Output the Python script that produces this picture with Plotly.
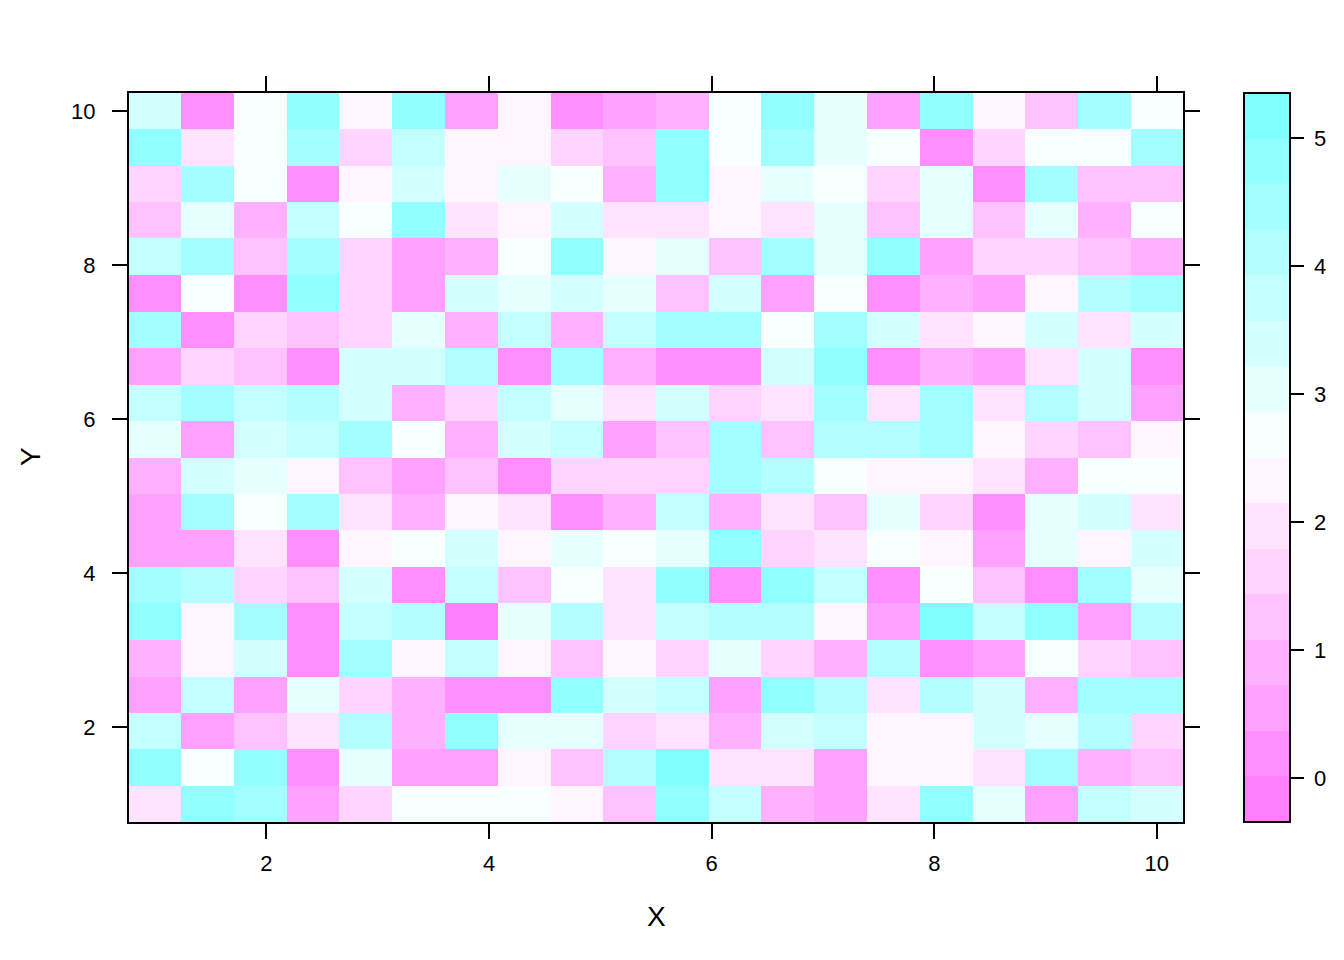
import plotly.graph_objects as go

# grid coordinates (20 x 20 cells, 1..10)
x_vals = [1.0, 1.47, 1.95, 2.42, 2.89, 3.37, 3.84, 4.32, 4.79, 5.26,
          5.74, 6.21, 6.68, 7.16, 7.63, 8.11, 8.58, 9.05, 9.53, 10.0]
y_vals = [1.0, 1.47, 1.95, 2.42, 2.89, 3.37, 3.84, 4.32, 4.79, 5.26,
          5.74, 6.21, 6.68, 7.16, 7.63, 8.11, 8.58, 9.05, 9.53, 10.0]

# z values, rows listed from top (y = 10) to bottom (y = 1)
z_top_to_bottom = [
    [3.40, 0.19, 2.68, 4.82, 2.33, 4.82, 0.55, 2.33, 0.19, 0.55, 0.90, 2.68, 4.82, 3.04, 0.55, 4.82, 2.33, 1.26, 4.46, 2.68],
    [4.82, 1.97, 2.68, 4.46, 1.62, 3.75, 2.33, 2.33, 1.62, 1.26, 4.82, 2.68, 4.46, 3.04, 2.68, 0.19, 1.62, 2.68, 2.68, 4.46],
    [1.62, 4.46, 2.68, 0.19, 2.33, 3.40, 2.33, 3.04, 2.68, 0.90, 4.82, 2.33, 3.04, 2.68, 1.62, 3.04, 0.19, 4.46, 1.26, 1.26],
    [1.26, 3.04, 0.90, 3.75, 2.68, 4.82, 1.97, 2.33, 3.40, 1.97, 1.97, 2.33, 1.97, 3.04, 1.26, 3.04, 1.26, 3.04, 0.90, 2.68],
    [3.75, 4.46, 1.26, 4.46, 1.62, 0.55, 0.90, 2.68, 4.82, 2.33, 3.04, 1.26, 4.46, 3.04, 4.82, 0.55, 1.62, 1.62, 1.26, 0.90],
    [0.19, 2.68, 0.19, 4.82, 1.62, 0.55, 3.40, 3.04, 3.40, 3.04, 1.26, 3.40, 0.55, 2.68, 0.19, 0.90, 0.55, 2.33, 4.11, 4.46],
    [4.46, 0.19, 1.62, 1.26, 1.62, 3.04, 0.90, 3.75, 0.90, 3.75, 4.46, 4.46, 2.68, 4.46, 3.40, 1.97, 2.33, 3.40, 1.97, 3.40],
    [0.55, 1.62, 1.26, 0.19, 3.40, 3.40, 4.11, 0.19, 4.46, 0.90, 0.19, 0.19, 3.40, 4.82, 0.19, 0.90, 0.55, 1.97, 3.40, 0.19],
    [3.75, 4.46, 3.75, 4.11, 3.40, 0.90, 1.62, 3.75, 3.04, 1.97, 3.40, 1.62, 1.97, 4.46, 1.97, 4.46, 1.97, 4.11, 3.40, 0.55],
    [3.04, 0.55, 3.40, 3.75, 4.46, 2.68, 0.90, 3.40, 3.75, 0.55, 1.26, 4.46, 1.26, 4.11, 4.11, 4.46, 2.33, 1.62, 1.26, 2.33],
    [0.90, 3.40, 3.04, 2.33, 1.26, 0.55, 1.26, 0.19, 1.62, 1.62, 1.62, 4.46, 4.11, 2.68, 2.33, 2.33, 1.97, 0.90, 2.68, 2.68],
    [0.55, 4.46, 2.68, 4.46, 1.97, 0.90, 2.33, 1.97, 0.19, 0.90, 3.75, 0.90, 1.97, 1.26, 3.04, 1.62, 0.19, 3.04, 3.40, 1.97],
    [0.55, 0.55, 1.97, 0.19, 2.33, 2.68, 3.40, 2.33, 3.04, 2.68, 3.04, 4.82, 1.62, 1.97, 2.68, 2.33, 0.55, 3.04, 2.33, 3.40],
    [4.46, 4.11, 1.62, 1.26, 3.40, 0.19, 3.75, 1.26, 2.68, 1.97, 4.82, 0.19, 4.82, 3.75, 0.19, 2.68, 1.26, 0.19, 4.46, 3.04],
    [4.82, 2.33, 4.46, 0.19, 3.75, 4.11, -0.16, 3.04, 4.11, 1.97, 3.75, 4.11, 4.11, 2.33, 0.55, 5.17, 3.75, 4.82, 0.55, 4.11],
    [0.90, 2.33, 3.40, 0.19, 4.46, 2.33, 3.75, 2.33, 1.26, 2.33, 1.62, 3.04, 1.62, 0.90, 4.11, 0.19, 0.55, 2.68, 1.62, 1.26],
    [0.55, 3.75, 0.55, 3.04, 1.62, 0.90, 0.19, 0.19, 4.82, 3.40, 3.75, 0.55, 4.82, 4.11, 1.97, 4.11, 3.40, 0.90, 4.46, 4.46],
    [3.75, 0.55, 1.26, 1.97, 4.11, 0.90, 4.82, 3.04, 3.04, 1.62, 1.97, 0.90, 3.40, 3.75, 2.33, 2.33, 3.40, 3.04, 4.11, 1.62],
    [4.82, 2.68, 4.82, 0.19, 3.04, 0.55, 0.55, 2.33, 1.26, 4.11, 5.17, 1.97, 1.97, 0.55, 2.33, 2.33, 1.97, 4.46, 0.90, 1.26],
    [1.97, 4.82, 4.46, 0.55, 1.62, 2.68, 2.68, 2.68, 2.33, 1.26, 4.82, 3.75, 0.90, 0.55, 1.97, 4.82, 3.04, 0.55, 3.75, 3.40],
]
z_rows = z_top_to_bottom[::-1]

# colour key
z_min, z_max = -0.34, 5.35
key_colors = ["#FF80FF", "#FF8FFF", "#FFA1FF", "#FFB0FF", "#FFC2FF", "#FFD4FF", "#FFE3FF", "#FFF5FF",
              "#F7FFFF", "#E6FFFF", "#D4FFFF", "#C4FFFF", "#B3FFFF", "#A3FFFF", "#91FFFF", "#80FFFF"]
key_ticks = [0, 1, 2, 3, 4, 5]
key_ticktext = ["0", "1", "2", "3", "4", "5"]
x_ticks = [2, 4, 6, 8, 10]
y_ticks = [2, 4, 6, 8, 10]

n = len(key_colors)
colorscale = []
for i, c in enumerate(key_colors):
    colorscale.append([i / n, c])
    colorscale.append([(i + 1) / n, c])

# page body has an 8px margin, so the figure starts at (8, 8)
OFF = 8
W, H = 1336, 952
L, T = 129 - OFF, 93 - OFF
R = W - (1183 - OFF)
B = H - (822 - OFF)
pw = W - L - R
ph = H - T - B
font = "Liberation Sans, Arial, sans-serif"
tick_size = 22

fig = go.Figure(go.Heatmap(
    x=x_vals, y=y_vals, z=z_rows,
    zmin=z_min, zmax=z_max, colorscale=colorscale,
    colorbar=dict(
        thickness=46, thicknessmode="pixels",
        len=729, lenmode="pixels",
        x=(1244 - OFF - L) / pw, xanchor="left", xpad=0,
        y=1.0, yanchor="top", ypad=0,
        outlinewidth=2, outlinecolor="black",
        ticks="outside", ticklen=13, tickwidth=2, tickcolor="black",
        tickvals=key_ticks,
        ticktext=["\u00a0" + t for t in key_ticktext],
        tickfont=dict(family=font, size=tick_size, color="black"),
    ),
))

half = (x_vals[1] - x_vals[0]) / 2
fig.update_layout(
    width=W, height=H,
    margin=dict(l=L, r=R, t=T, b=B, autoexpand=False),
    paper_bgcolor="white", plot_bgcolor="white",
    font=dict(family=font, color="black"),
    xaxis=dict(range=[x_vals[0] - half, x_vals[-1] + half], tickvals=x_ticks,
               showline=True, linecolor="black", linewidth=2, mirror="ticks",
               ticks="outside", ticklen=15, tickwidth=2, tickcolor="black",
               showgrid=False, zeroline=False, ticklabelstandoff=6,
               tickfont=dict(family=font, size=tick_size, color="black")),
    yaxis=dict(range=[y_vals[0] - half, y_vals[-1] + half], tickvals=y_ticks,
               showline=True, linecolor="black", linewidth=2, mirror="ticks",
               ticks="outside", ticklen=15, tickwidth=2, tickcolor="black",
               showgrid=False, zeroline=False, ticklabelstandoff=12,
               tickfont=dict(family=font, size=tick_size, color="black")),
    annotations=[
        dict(text="X", x=0.5, xref="paper", y=(822 - 916) / ph, yref="paper",
             showarrow=False, font=dict(family=font, size=28, color="black"),
             xanchor="center", yanchor="middle"),
        dict(text="Y", x=(30 - 129) / pw, xref="paper", y=(822 - 457) / ph, yref="paper",
             showarrow=False, textangle=-90, font=dict(family=font, size=28, color="black"),
             xanchor="center", yanchor="middle"),
    ],
)

fig.write_html("out.html")
